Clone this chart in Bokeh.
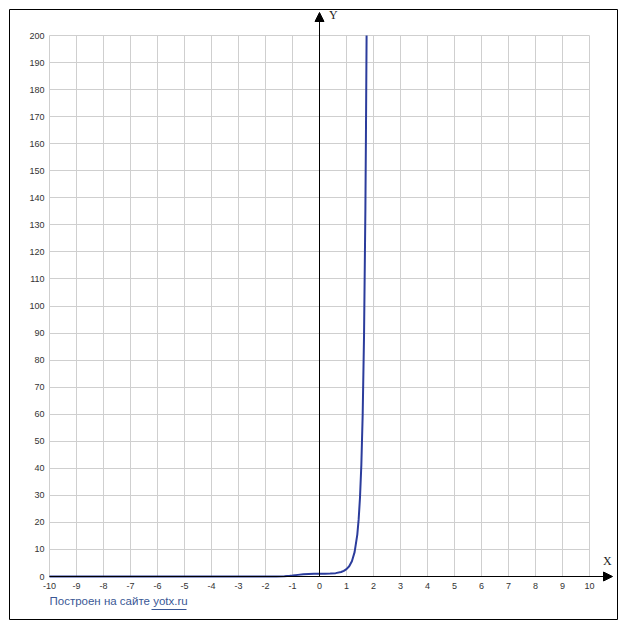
from bokeh.plotting import figure
from bokeh.models import (Range1d, LinearAxis, Grid, FixedTicker, Arrow, NormalHead, Label)
from bokeh.embed import file_html
from bokeh.resources import INLINE

# ---- data ----
x_ticks = [-10, -9, -8, -7, -6, -5, -4, -3, -2, -1, 0, 1, 2, 3, 4, 5, 6, 7, 8, 9, 10]
y_ticks = [0, 10, 20, 30, 40, 50, 60, 70, 80, 90, 100, 110, 120, 130, 140, 150,
           160, 170, 180, 190, 200]

curve_x = [-10, -3, -2, -1.6, -1.3, -1.1, -1.0, -0.8, -0.6, -0.4, -0.2, 0.0, 0.2,
           0.4, 0.6, 0.8, 0.9, 1.0, 1.1, 1.2, 1.3, 1.4, 1.45, 1.5, 1.55, 1.6,
           1.65, 1.7, 1.72, 1.744]
curve_y = [0.0, 0.0, 0.0, 0.02, 0.11, 0.26, 0.37, 0.6, 0.81, 0.94, 0.99, 1.0, 1.01,
           1.07, 1.24, 1.67, 2.07, 2.72, 3.78, 5.63, 9.0, 15.5, 21.1, 29.2, 41.3, 60.1,
           89.4, 136.2, 163.0, 200.0]

footer_text = "Построен на сайте "
footer_link = "yotx.ru"

# ---- layout ----
xmin, xmax = x_ticks[0], x_ticks[-1]
ymin, ymax = y_ticks[0], y_ticks[-1]
px_x = 27.0      # pixels per x unit
px_y = 2.705     # pixels per y unit
pad_l, pad_r, pad_t, pad_b = 40, 28, 26, 43

p = figure(width=622, height=624, output_backend="svg", toolbar_location=None,
           x_axis_type=None, y_axis_type=None,
           min_border_left=9, min_border_top=9, min_border_right=5, min_border_bottom=5,
           x_range=Range1d(xmin - pad_l / px_x, xmax + pad_r / px_x),
           y_range=Range1d(ymin - pad_b / px_y, ymax + pad_t / px_y))
p.outline_line_color = "black"
p.outline_line_width = 1
p.background_fill_color = "white"
p.border_fill_color = "white"

xg = Grid(dimension=0, ticker=FixedTicker(ticks=x_ticks), bounds=(xmin, xmax),
          cross_bounds=(ymin, ymax), grid_line_color="#cfcfcf", grid_line_width=1)
yg = Grid(dimension=1, ticker=FixedTicker(ticks=y_ticks), bounds=(ymin, ymax),
          cross_bounds=(xmin, xmax), grid_line_color="#cfcfcf", grid_line_width=1)
p.add_layout(xg)
p.add_layout(yg)

lab_font = "Liberation Sans"
xa = LinearAxis(ticker=FixedTicker(ticks=x_ticks), fixed_location=0,
                axis_line_color=None, major_tick_line_color=None,
                minor_tick_line_color=None, major_tick_out=0, major_tick_in=0,
                major_label_standoff=6, major_label_text_font_size="9px",
                major_label_text_font=lab_font, major_label_text_color="#333333",
                major_label_overrides={t: str(t) for t in x_ticks})
ya = LinearAxis(ticker=FixedTicker(ticks=y_ticks), fixed_location=xmin,
                axis_line_color=None, major_tick_line_color=None,
                minor_tick_line_color=None, major_tick_out=0, major_tick_in=0,
                major_label_standoff=5, major_label_text_font_size="9px",
                major_label_text_font=lab_font, major_label_text_color="#333333",
                major_label_overrides={t: str(t) for t in y_ticks})
p.add_layout(xa, "below")
p.add_layout(ya, "left")

# axes through origin with arrows
p.add_layout(Arrow(end=NormalHead(size=9, fill_color="black", line_color="black"),
                   x_start=xmin, y_start=0, x_end=xmax + 23 / px_x, y_end=0,
                   line_color="black", line_width=1))
p.add_layout(Arrow(end=NormalHead(size=9, fill_color="black", line_color="black"),
                   x_start=0, y_start=0, x_end=0, y_end=ymax + 23 / px_y,
                   line_color="black", line_width=1))

p.add_layout(Label(x=0.35, y=ymax + 14 / px_y, text="Y", text_font="Liberation Serif",
                   text_font_size="12px", text_color="#222222"))
p.add_layout(Label(x=10.5, y=9 / px_y, text="X", text_font="Liberation Serif",
                   text_font_size="12px", text_color="#222222"))

# curve
p.line(curve_x, curve_y, line_color="#2b3c9c", line_width=2)

# footer
foot = Label(x=xmin, y=-30 / px_y, text=footer_text + footer_link,
             text_font=lab_font, text_font_size="11.5px", text_color="#3a5795")
p.add_layout(foot)
p.line([xmin + 102 / px_x, xmin + 137 / px_x], [-33 / px_y, -33 / px_y],
       line_color="#3a5795", line_width=1)

open("out.html", "w").write(file_html(p, INLINE))
